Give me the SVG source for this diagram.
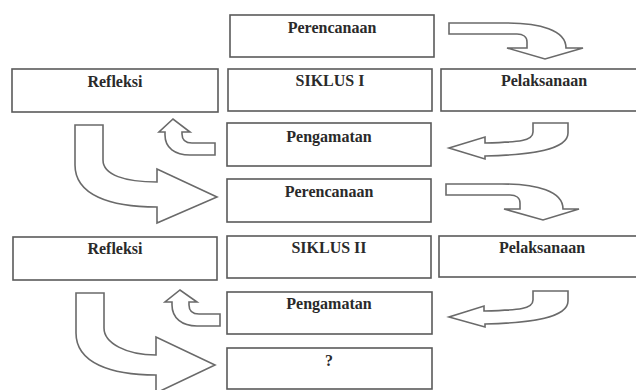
<svg xmlns="http://www.w3.org/2000/svg" width="636" height="390" viewBox="0 0 636 390">
<style>
.box{fill:#fff;stroke:#5a5a5a;stroke-width:1.6}
.arr{fill:#fff;stroke:#6a6a6a;stroke-width:1.6;stroke-linejoin:miter}
.t{font-family:"Liberation Serif","Times New Roman",serif;font-size:16px;font-weight:bold;fill:#2a2a2a;text-anchor:middle}
</style>
<rect width="636" height="390" fill="#fff"/>
<g id="connectors">
<path class="arr" d="M449 23 H505 C540 23 566 30 566 48 H583 L545 59 L507 48 H527 V42 C527 37 523 34 517 34 H449 Z"/>
<path class="arr" d="M533 123 H568 V133 C568 150 530 155 485 156 V159 L449 148 L485 137 V143 C520 142 533 141 533 132 Z"/>
<path class="arr" d="M215 143 H192 C185 143 182 140 182 134 V132 H190 L173 119 L159 132 H165 V135 C165 148 175 155 190 155 H215 Z"/>
<path class="arr" d="M75 125 H103 V160 C103 175 125 182 157 182 V169 L217 197 L157 223 V207 C110 207 75 195 75 165 Z"/>
<path class="arr" d="M446 184 H502 C537 184 563 191 563 209 H579 L543 220 L504 209 H520 V203 C520 198 516 195 510 195 H446 Z"/>
<path class="arr" d="M533 291 H568 V301 C568 318 530 323 485 324 V327 L449 317 L484 306 V311 C520 310 533 309 533 300 Z"/>
<path class="arr" d="M220 314 H199 C192 314 189 311 189 305 V302 H197 L180 290 L165 302 H172 V305 C172 318 182 326 197 326 H220 Z"/>
<path class="arr" d="M76 293 H104 V328 C104 343 126 355 156 355 V337 L215 365 L156 393 V375 C111 375 76 363 76 333 Z"/>
</g>
<g id="perencanaan1"><rect class="box" x="230" y="15" width="204" height="42"/><text class="t" x="332" y="33">Perencanaan</text></g>
<g id="siklus1"><rect class="box" x="228" y="69" width="204" height="42"/><text class="t" x="330" y="86">SIKLUS I</text></g>
<g id="refleksi1"><rect class="box" x="12" y="69" width="206" height="43"/><text class="t" x="115" y="87">Refleksi</text></g>
<g id="pelaksanaan1"><rect class="box" x="441" y="69" width="206" height="42"/><text class="t" x="544" y="86">Pelaksanaan</text></g>
<g id="pengamatan1"><rect class="box" x="227" y="123" width="204" height="43"/><text class="t" x="329" y="142">Pengamatan</text></g>
<g id="perencanaan2"><rect class="box" x="227" y="179" width="204" height="43"/><text class="t" x="329" y="197">Perencanaan</text></g>
<g id="siklus2"><rect class="box" x="227" y="236" width="204" height="42"/><text class="t" x="329" y="253">SIKLUS II</text></g>
<g id="refleksi2"><rect class="box" x="13" y="237" width="204" height="43"/><text class="t" x="115" y="254">Refleksi</text></g>
<g id="pelaksanaan2"><rect class="box" x="439" y="236" width="206" height="41"/><text class="t" x="542" y="253">Pelaksanaan</text></g>
<g id="pengamatan2"><rect class="box" x="227" y="292" width="205" height="42"/><text class="t" x="329" y="309">Pengamatan</text></g>
<g id="tanya"><rect class="box" x="227" y="348" width="205" height="41"/><text class="t" x="329" y="366">?</text></g>
</svg>
